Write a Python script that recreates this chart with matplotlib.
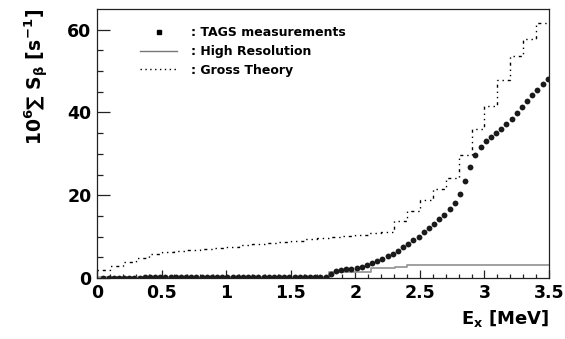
import numpy as np
import matplotlib
matplotlib.use("Agg")
import matplotlib.pyplot as plt
from matplotlib.lines import Line2D

plt.rcParams['font.family'] = ['DejaVu Sans']
plt.rcParams['font.weight'] = 'bold'
plt.rcParams['mathtext.fontset'] = 'custom'
plt.rcParams['mathtext.rm'] = 'DejaVu Sans:bold'
plt.rcParams['mathtext.it'] = 'DejaVu Sans:bold'
plt.rcParams['mathtext.bf'] = 'DejaVu Sans:bold'

# TAGS measurements (cumulative, 40 keV spacing)
tags_x = np.arange(0.05, 3.5, 0.04)
tags_y = [0.05, 0.06, 0.07, 0.08, 0.09, 0.10, 0.10, 0.11, 0.12, 0.12,
          0.13, 0.13, 0.14, 0.14, 0.15, 0.15, 0.16, 0.16, 0.17, 0.17,
          0.18, 0.18, 0.19, 0.19, 0.20, 0.20, 0.21, 0.21, 0.22, 0.22,
          0.23, 0.23, 0.24, 0.24, 0.25, 0.25, 0.26, 0.26, 0.27, 0.27,
          0.28, 0.28, 0.29, 0.30,
          1.0, 1.6, 1.9, 2.1, 2.2, 2.3, 2.7, 3.1, 3.6, 4.0,
          4.6, 5.2, 5.8, 6.5, 7.4, 8.2, 9.2, 10.0, 11.0, 12.0,
          13.1, 14.2, 15.3, 16.7, 18.2, 20.4, 23.5, 26.8, 29.7, 31.7,
          33.0, 34.1, 35.1, 36.1, 37.3, 38.5, 39.9, 41.4, 42.8, 44.1,
          45.5, 46.9, 48.2]

# High resolution (step edges)
hr_x = [0.0, 1.80, 2.12, 2.31, 2.40, 3.50]
hr_y = [0.3, 1.5, 2.3, 2.6, 3.15, 3.15]

# Gross theory, 100 keV bins
gt_edges = np.arange(0.0, 3.55, 0.1)
gt_y = [1.9, 2.9, 3.8, 4.8, 5.8, 6.2, 6.5, 6.7, 7.0, 7.3,
        7.6, 7.9, 8.2, 8.5, 8.8, 9.0, 9.3, 9.6, 9.9, 10.2,
        10.5, 10.8, 11.2, 13.7, 16.3, 18.9, 21.6, 24.2, 29.8, 35.9,
        41.5, 47.8, 53.7, 57.7, 61.6]

fig = plt.figure(figsize=(5.65, 3.39), dpi=100)
ax = fig.add_axes([0.1717, 0.18, 0.80, 0.7935])

gt_style = (0, (1, 2.8, 2.2, 2.8, 1, 2.8))
ax.stairs(gt_y, gt_edges, baseline=None, color='black', lw=1.0,
          linestyle=gt_style)
ax.step(hr_x, hr_y, where='post', color='#999999', lw=1.3)
ax.plot(tags_x, tags_y, 'o', color='#1a1a1a', ms=4.2, mec='none')

ax.set_xlim(0, 3.5)
ax.set_ylim(0, 65)
ax.set_xticks(np.arange(0, 3.51, 0.5))
ax.set_xticklabels(['0', '0.5', '1', '1.5', '2', '2.5', '3', '3.5'])
ax.set_xticks(np.arange(0, 3.51, 0.1), minor=True)
ax.set_yticks([0, 20, 40, 60])
ax.set_yticks(np.arange(0, 65, 5), minor=True)
ax.tick_params(axis='both', which='both', direction='in', labelsize=12.5,
               width=0.9, color='#222222')
ax.tick_params(axis='y', which='major', length=9.5, pad=4)
ax.tick_params(axis='y', which='minor', length=4.5)
ax.tick_params(axis='x', which='major', length=6, pad=4)
ax.tick_params(axis='x', which='minor', length=3)
for s in ax.spines.values():
    s.set_linewidth(0.9)
    s.set_color('#222222')

ax.set_xlabel(r'$\mathbf{E_{x}}$ [MeV]', fontsize=13, fontweight='bold',
              loc='right', labelpad=5)
ax.set_ylabel(r'$10^{6}\sum\ S_{\beta}\ [s^{-1}]$', fontsize=13.5,
              loc='top', labelpad=12)

handles = [Line2D([], [], ls='none', marker='s', ms=3, color='black'),
           Line2D([], [], color='#777777', lw=1),
           Line2D([], [], color='black', lw=1, linestyle=(0, (1, 2.5)))]
labels = [': TAGS measurements', ': High Resolution', ': Gross Theory']
ax.legend(handles, labels, loc='upper left', bbox_to_anchor=(0.095, 0.935),
          frameon=False, handlelength=3.0, handletextpad=1.1,
          labelspacing=0.45, borderpad=0, borderaxespad=0,
          prop={'weight': 'bold', 'size': 9})

fig.savefig('out.png', dpi=100)
